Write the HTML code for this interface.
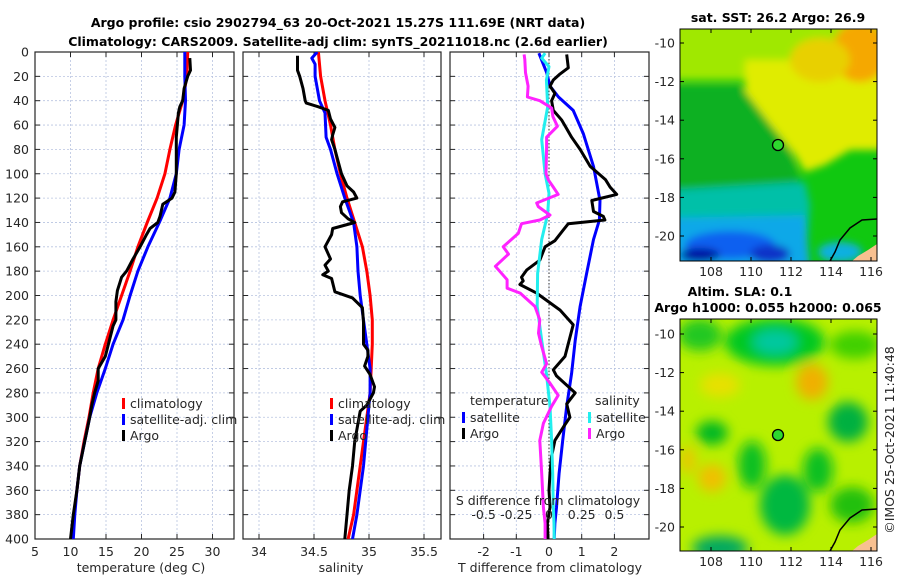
<!DOCTYPE html>
<html><head><meta charset="utf-8"><style>
body{margin:0;background:#fff;}
svg text{font-family:"DejaVu Sans","Liberation Sans",sans-serif;fill:#262626;}
.t{font-weight:bold;font-size:12.5px;fill:#000;}
.tk{font-size:12.5px;}
</style></head><body>
<svg id="c" width="900" height="580" viewBox="0 0 900 580" xmlns="http://www.w3.org/2000/svg">
<defs>
<clipPath id="cp1"><rect x="35" y="52" width="199" height="487"/></clipPath>
<clipPath id="cp2"><rect x="243" y="52" width="198" height="487"/></clipPath>
<clipPath id="cp3"><rect x="450" y="52" width="199" height="487"/></clipPath>
<clipPath id="cm1"><rect x="680" y="29" width="197" height="232"/></clipPath>
<clipPath id="cm2"><rect x="680" y="319" width="197" height="232"/></clipPath>
<filter id="bl" x="-20%" y="-20%" width="140%" height="140%"><feGaussianBlur stdDeviation="4"/></filter>
<filter id="bl2" x="-20%" y="-20%" width="140%" height="140%"><feGaussianBlur stdDeviation="6"/></filter>
</defs>
<text class="t" x="338" y="27" text-anchor="middle">Argo profile: csio 2902794_63 20-Oct-2021 15.27S 111.69E (NRT data)</text>
<text class="t" x="338" y="46" text-anchor="middle">Climatology: CARS2009. Satellite-adj clim: synTS_20211018.nc (2.6d earlier)</text>

<!-- top map -->
<g>
<g clip-path="url(#cm1)">
<rect x="680" y="29" width="197" height="232" fill="#10c810"/>
<g filter="url(#bl)">
<polygon points="670,20 890,20 890,80 670,80" fill="#a0e800"/>
<polygon points="745,60 890,60 890,150 850,150 825,165 805,172 795,155 775,130 760,115 745,100" fill="#e0ec00"/>
<ellipse cx="860" cy="52" rx="28" ry="30" fill="#f5a800"/>
<ellipse cx="820" cy="60" rx="30" ry="22" fill="#e8d000"/>
<polygon points="670,85 740,85 790,150 800,185 670,190" fill="#08b020"/>
<polygon points="670,190 805,182 810,205 805,270 670,270" fill="#00c0a8"/>
<polygon points="670,218 805,215 810,270 670,270" fill="#10a8e8"/>
<ellipse cx="730" cy="245" rx="45" ry="14" fill="#1060f0"/>
<ellipse cx="700" cy="255" rx="20" ry="7" fill="#0010a0"/>
<ellipse cx="770" cy="254" rx="20" ry="9" fill="#1030c8"/>
<ellipse cx="840" cy="252" rx="22" ry="10" fill="#10b0e0"/>
</g>
<path d="M877,219 L862,220 L850,228 L840,240 L835,252 L830,261" stroke="#000" stroke-width="1.5" fill="none"/>
<path d="M877,244 L868,250 L858,256 L852,261 L877,261 Z" fill="#f8c090"/>
</g>
<rect x="680" y="29" width="197" height="232" fill="none" stroke="#000" stroke-width="1"/>
<circle cx="778" cy="145" r="5.5" fill="#2ed82e" stroke="#000" stroke-width="1.3"/>
<text class="t" x="778" y="22" text-anchor="middle">sat. SST: 26.2 Argo: 26.9</text>
</g>

<!-- bottom map -->
<g>
<g clip-path="url(#cm2)">
<rect x="680" y="319" width="197" height="232" fill="#b8f000"/>
<g filter="url(#bl2)">
<ellipse cx="775" cy="342" rx="50" ry="24" fill="#00c820"/>
<ellipse cx="775" cy="342" rx="22" ry="12" fill="#00c8a0"/>
<ellipse cx="700" cy="335" rx="22" ry="16" fill="#20c820"/>
<ellipse cx="855" cy="345" rx="25" ry="14" fill="#40d000"/>
<ellipse cx="712" cy="433" rx="16" ry="12" fill="#00b820"/>
<ellipse cx="848" cy="422" rx="20" ry="20" fill="#00b040"/>
<ellipse cx="785" cy="505" rx="25" ry="30" fill="#00b840"/>
<ellipse cx="818" cy="470" rx="15" ry="22" fill="#10c020"/>
<ellipse cx="752" cy="465" rx="14" ry="24" fill="#10c020"/>
<ellipse cx="720" cy="548" rx="28" ry="12" fill="#00a860"/>
<ellipse cx="852" cy="505" rx="22" ry="18" fill="#20c010"/>
<ellipse cx="812" cy="382" rx="16" ry="18" fill="#f0b000"/>
<ellipse cx="712" cy="478" rx="14" ry="14" fill="#f0c000"/>
<ellipse cx="688" cy="460" rx="8" ry="14" fill="#e8c800"/>
<ellipse cx="720" cy="385" rx="20" ry="12" fill="#e8e000"/>
</g>
<path d="M877,509 L862,510 L850,518 L840,530 L835,542 L830,551" stroke="#000" stroke-width="1.5" fill="none"/>
<path d="M877,534 L868,540 L858,546 L852,551 L877,551 Z" fill="#f8c090"/>
</g>
<rect x="680" y="319" width="197" height="232" fill="none" stroke="#000" stroke-width="1"/>
<circle cx="778" cy="435" r="5.5" fill="#2ed82e" stroke="#000" stroke-width="1.3"/>
<text class="t" x="740" y="296" text-anchor="middle">Altim. SLA: 0.1</text>
<text class="t" x="768" y="312" text-anchor="middle">Argo h1000: 0.055 h2000: 0.065</text>
</g>
<text class="tk" transform="translate(894,440) rotate(-90)" text-anchor="middle">©IMOS 25-Oct-2021 11:40:48</text>
<g id="axes"></g>
<g id="marks"></g>
</svg>
<script>
// ---- data (depth m) ----
const climDepth=[0,20,40,60,80,100,120,140,160,180,200,220,240,260,280,300,320,340,360,380,400];
const climTemp=[26.5,26.4,25.8,24.8,24.0,23.3,22.2,20.8,19.5,18.4,17.2,16.0,14.9,13.9,13.2,12.6,11.9,11.3,10.9,10.5,10.2];
const satTemp=[26.1,26.1,26.2,26.0,25.3,24.9,24.0,22.5,20.9,19.5,18.4,17.4,16.0,14.9,13.7,12.7,12.0,11.3,10.9,10.6,10.4];
const argoTDepth=[5,15,20,30,40,45,50,70,100,115,120,125,135,140,145,150,160,170,180,185,196,205,220,225,250,260,270,280,290,300,320,340,360,380,400];
const argoTemp=[26.8,26.9,26.5,26.0,25.8,25.4,25.2,24.9,24.9,24.7,24.3,23.0,22.6,22.3,21.2,20.7,19.8,18.8,17.9,17.2,16.6,16.4,16.4,16.0,14.9,13.9,13.9,13.4,13.0,12.7,12.0,11.3,10.9,10.4,10.0];
const climSal=[34.54,34.56,34.60,34.65,34.69,34.74,34.80,34.87,34.94,34.98,35.01,35.03,35.03,35.02,35.01,34.98,34.95,34.92,34.89,34.86,34.81];
const satSalDepth=[0,5,10,20,40,50,70,80,100,120,140,160,180,200,220,240,260,280,300,320,340,360,380,400];
const satSal=[34.53,34.48,34.51,34.51,34.55,34.60,34.61,34.65,34.71,34.78,34.86,34.89,34.90,34.92,34.95,34.98,35.01,35.01,34.99,34.97,34.95,34.92,34.89,34.85];
const argoSDepth=[3,15,20,30,40,42,45,48,55,62,68,72,80,90,100,110,115,120,123,127,132,137,140,145,150,160,170,175,180,183,186,197,202,210,222,230,240,245,250,258,265,275,280,290,295,305,320,340,360,380,400];
const argoSal=[34.35,34.35,34.37,34.40,34.42,34.43,34.54,34.63,34.65,34.69,34.67,34.66,34.69,34.72,34.75,34.80,34.86,34.89,34.76,34.74,34.75,34.81,34.87,34.67,34.66,34.60,34.65,34.60,34.63,34.58,34.66,34.69,34.85,34.94,34.95,34.95,34.95,34.99,34.99,34.96,35.01,35.05,35.04,34.98,34.92,34.90,34.87,34.85,34.82,34.80,34.78];
const dTsatDepth=[1,17,28,37,48,67,94,122,138,154,182,209,237,264,291,319,346,374,387,400];
const dTsat=[-0.31,-0.07,0.03,0.29,0.74,1.05,1.36,1.56,1.54,1.36,1.15,0.95,0.80,0.69,0.54,0.42,0.31,0.23,0.18,0.16];
const dTargoDepth=[2,13,18,23,28,34,40,48,56,70,80,94,105,111,117,122,131,135,138,141,146,155,160,171,179,185,188,191,198,212,224,250,261,266,280,289,300,308,319,332,346,360,374,387,400];
const dTargo=[0.54,0.59,0.34,0.13,0.03,0.18,0.08,0.13,0.39,0.69,0.95,1.26,1.73,1.87,2.07,1.31,1.36,1.66,1.71,0.59,0.44,0.18,-0.12,-0.28,-0.68,-0.84,-0.79,-0.89,-0.38,0.34,0.74,0.49,0.13,0.23,0.80,0.54,0.64,0.44,0.18,0.08,0.03,0.0,0.03,-0.05,-0.03];
const dSsatDepth=[1,5,12,23,45,72,100,116,133,154,182,209,237,264,291,319,346,374,387,400];
const dSsat=[-0.03,-0.056,0.0,-0.02,-0.01,-0.056,-0.03,0.0,-0.01,-0.056,-0.087,-0.09,-0.056,-0.02,0.008,0.02,0.028,0.033,0.038,0.04];
const dSargoDepth=[2,6,17,28,37,40,46,53,61,70,78,100,105,111,117,124,127,134,138,141,149,160,166,176,187,194,198,209,220,231,242,256,263,272,282,291,305,319,346,374,387,400];
const dSargo=[-0.19,-0.185,-0.18,-0.16,-0.165,-0.07,0.02,0.03,0.064,-0.018,-0.018,-0.023,-0.005,0.033,0.07,-0.094,-0.082,0.008,-0.07,-0.21,-0.235,-0.35,-0.31,-0.41,-0.32,-0.32,-0.22,-0.107,-0.07,-0.08,-0.056,-0.018,-0.056,0.008,0.07,0.02,-0.043,-0.07,-0.056,-0.043,-0.03,-0.03];
const depthTicks=[0,20,40,60,80,100,120,140,160,180,200,220,240,260,280,300,320,340,360,380,400];
const tempTicks=[5,10,15,20,25,30];
const salTicks=[34,34.5,35,35.5];
const dTTicks=[-2,-1,0,1,2];
const dSTicks=[-0.5,-0.25,0,0.25,0.5];
const dSTickLabels=['-0.5','-0.25','0','0.25','0.5'];
const latTicks=[-10,-12,-14,-16,-18,-20];
const lonTicks=[108,110,112,114,116];

// ---- scales ----
const yD=d=>52+d*1.2175;
const xT=t=>35+(t-5)*7.1;
const xS=s=>259+(s-34)*110;
const xTd=v=>549+v*32.7;
const xSd=v=>549+v*4*32.7;
const latY1=l=>43+(-10-l)*19.3;
const latY2=l=>334+(-10-l)*19.3;
const lonX=l=>711+(l-108)*20;

const NS='http://www.w3.org/2000/svg';
const axes=document.getElementById('axes');
const marks=document.getElementById('marks');
function mk(tag,parent,attrs){const e=document.createElementNS(NS,tag);for(const k in attrs)e.setAttribute(k,attrs[k]);parent.appendChild(e);return e;}
function txt(parent,x,y,s,anchor,cls){const e=mk('text',parent,{x:x,y:y,'text-anchor':anchor||'middle',class:cls||'tk'});e.textContent=s;return e;}

const panels=[
 {x0:35,x1:234,clip:'cp1',xs:xT,xt:tempTicks,name:'temperature-panel'},
 {x0:243,x1:441,clip:'cp2',xs:xS,xt:salTicks,name:'salinity-panel'},
 {x0:450,x1:649,clip:'cp3',xs:xTd,xt:dTTicks,name:'difference-panel'}
];
panels.forEach(p=>{
 const g=mk('g',axes,{});
 
 
 depthTicks.forEach(d=>{mk('line',g,{x1:p.x0,x2:p.x1,y1:yD(d),y2:yD(d),stroke:'#b8c4e0','stroke-width':0.8,'stroke-dasharray':'2,2'});
  mk('line',g,{x1:p.x0,x2:p.x0+5,y1:yD(d),y2:yD(d),stroke:'#262626'});
  mk('line',g,{x1:p.x1-5,x2:p.x1,y1:yD(d),y2:yD(d),stroke:'#262626'});});
 p.xt.forEach(v=>{const x=p.xs(v);mk('line',g,{x1:x,x2:x,y1:52,y2:539,stroke:'#b8c4e0','stroke-width':0.8,'stroke-dasharray':'2,2'});
  mk('line',g,{x1:x,x2:x,y1:539,y2:534,stroke:'#262626'});mk('line',g,{x1:x,x2:x,y1:52,y2:57,stroke:'#262626'});
  txt(g,x,556,String(v));});
 mk('rect',g,{x:p.x0,y:52,width:p.x1-p.x0,height:487,fill:'none',stroke:'#262626','stroke-width':1.2});
});
depthTicks.forEach(d=>{const e=txt(axes,29,yD(d)+4.5,String(d),'end');});
txt(axes,141,572,'temperature (deg C)');
txt(axes,341,572,'salinity');
txt(axes,550,572,'T difference from climatology');
mk('line',axes,{x1:549,x2:549,y1:52,y2:539,stroke:'#333','stroke-width':1,'stroke-dasharray':'1.5,2'});

function line(xs,ys,xf,color,clip,name,w){
 let d='';xs.forEach((v,i)=>{d+=(i?'L':'M')+xf(v).toFixed(1)+','+yD(ys[i]).toFixed(1);});
 const e=mk('path',marks,{d:d,fill:'none',stroke:color,'stroke-width':w||3,'stroke-linejoin':'round','clip-path':'url(#'+clip+')'});
 
 
}
line(climTemp,climDepth,xT,'#ff0000','cp1','climatology-temp-line');
line(satTemp,climDepth,xT,'#0000ff','cp1','satellite-temp-line');
line(argoTemp,argoTDepth,xT,'#000','cp1','argo-temp-line');
line(climSal,climDepth,xS,'#ff0000','cp2','climatology-sal-line');
line(satSal,satSalDepth,xS,'#0000ff','cp2','satellite-sal-line');
line(argoSal,argoSDepth,xS,'#000','cp2','argo-sal-line');
line(dTsat,dTsatDepth,xTd,'#0000ff','cp3','satellite-temp-diff-line');
line(dTargo,dTargoDepth,xTd,'#000','cp3','argo-temp-diff-line');
line(dSsat,dSsatDepth,xSd,'#22eeee','cp3','satellite-sal-diff-line');
line(dSargo,dSargoDepth,xSd,'#ff22ff','cp3','argo-sal-diff-line');

// S diff axis labels
const sl=txt(marks,548,505,'S difference from climatology');


dSTicks.forEach((v,i)=>txt(marks,xSd(v),519,dSTickLabels[i]));

// legends
function legend(x,y,items){items.forEach((it,i)=>{const yy=y+i*16;
 mk('rect',marks,{x:x,y:yy-10,width:3,height:11,fill:it[1]});
 const e=txt(marks,x+8,yy,it[0],'start');
 
 });}
legend(122,408,[['climatology','#ff0000'],['satellite-adj. clim','#0000ff'],['Argo','#000']]);
legend(330,408,[['climatology','#ff0000'],['satellite-adj. clim','#0000ff'],['Argo','#000']]);
txt(marks,470,405,'temperature','start');
legend(462,422,[['satellite','#0000ff'],['Argo','#000']]);
txt(marks,595,405,'salinity','start');
legend(588,422,[['satellite','#22eeee'],['Argo','#ff22ff']]);

// map axes
[[latY1,29,261],[latY2,319,551]].forEach(m=>{
 latTicks.forEach(l=>{const y=m[0](l);txt(axes,675,y+4.5,String(l),'end');
  mk('line',axes,{x1:680,x2:684,y1:y,y2:y,stroke:'#000'});mk('line',axes,{x1:873,x2:877,y1:y,y2:y,stroke:'#000'});});
 lonTicks.forEach(l=>{const x=lonX(l);txt(axes,x,m[2]+15,String(l));
  mk('line',axes,{x1:x,x2:x,y1:m[2],y2:m[2]-4,stroke:'#000'});mk('line',axes,{x1:x,x2:x,y1:m[1],y2:m[1]+4,stroke:'#000'});});
});
</script>
</body></html>
